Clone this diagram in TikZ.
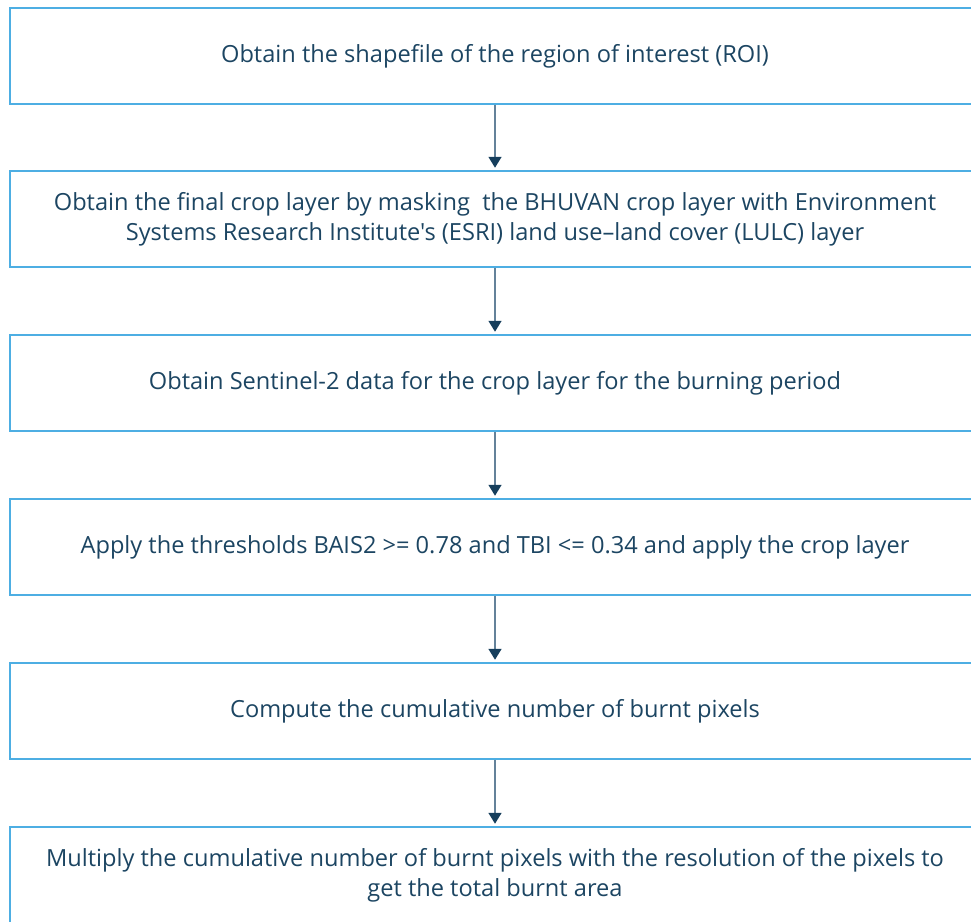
\documentclass[tikz,border=0pt]{standalone}
\usepackage{fontspec}
\setmainfont{Open Sans}[Ligatures=TeXOff]
\usetikzlibrary{arrows.meta}
\definecolor{boxline}{HTML}{4DAEE3}
\definecolor{txt}{HTML}{1C4562}
\definecolor{arrline}{HTML}{64829A}
\definecolor{arrhead}{HTML}{163E5C}
\tikzset{
  stepbox/.style={draw=boxline, line width=1.5pt, minimum width=970pt, minimum height=96pt,
    inner sep=0pt, align=center, text=txt, font=\fontsize{23.6}{30}\selectfont},
  flowarrow/.style={draw=arrline, line width=1.6pt,
    -{Triangle[width=13pt,length=11pt,color=arrhead]}, shorten >=2.5pt}
}
\begin{document}
\begin{tikzpicture}[x=1pt,y=-1pt]
\useasboundingbox (0,0) rectangle (971,921);
\clip (0,0) rectangle (971,921);
\node[stepbox] (b1) at (495,56) {Obtain the shapefile of the region of interest (ROI)};
\node[stepbox] (b2) at (495,219) {Obtain the final crop layer by masking\ \ the BHUVAN crop layer with Environment\\Systems Research Institute's (ESRI) land use–land cover (LULC) layer};
\node[stepbox] (b3) at (495,383) {Obtain Sentinel-2 data for the crop layer for the burning period};
\node[stepbox] (b4) at (495,547) {Apply the thresholds BAIS2 >= 0.78 and TBI <= 0.34 and apply the crop layer};
\node[stepbox] (b5) at (495,711) {Compute the cumulative number of burnt pixels};
\node[stepbox] (b6) at (495,875) {Multiply the cumulative number of burnt pixels with the resolution of the pixels to\\get the total burnt area};
\draw[flowarrow] (b1.south) -- (b2.north);
\draw[flowarrow] (b2.south) -- (b3.north);
\draw[flowarrow] (b3.south) -- (b4.north);
\draw[flowarrow] (b4.south) -- (b5.north);
\draw[flowarrow] (b5.south) -- (b6.north);
\end{tikzpicture}
\end{document}
